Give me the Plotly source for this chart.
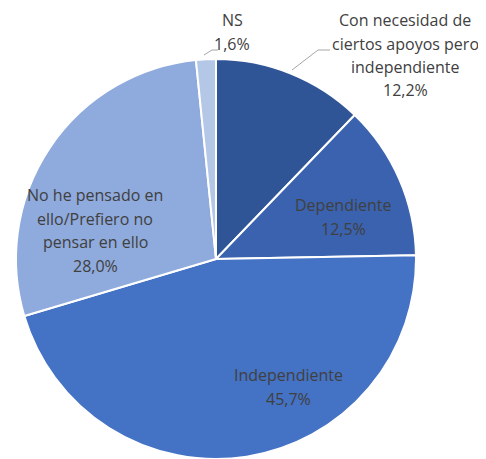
import plotly.graph_objects as go

categories = ["Con necesidad de ciertos apoyos pero independiente",
              "Dependiente", "Independiente",
              "No he pensado en ello/Prefiero no pensar en ello", "NS"]
values = [12.2, 12.5, 45.7, 28.0, 1.6]
label_lines = [["Con necesidad de", "ciertos apoyos pero", "independiente"],
               ["Dependiente"], ["Independiente"],
               ["No he pensado en", "ello/Prefiero no", "pensar en ello"],
               ["NS"]]
colors = ["#2F5597", "#3A62AE", "#4472C4", "#8FAADC", "#B4C7E7"]

OFF = 8  # page body margin
W, H = 486 - OFF, 459 - OFF
# label anchor (page pixel) for first line, and line spacing
label_pos = [(405, 20), (343, 205), (288, 375), (95, 195), (232, 20)]
LS = 23.5

def px(x):
    return (x - OFF) / W

def py(y):
    return 1 - (y - OFF) / H

fig = go.Figure(go.Pie(
    labels=categories, values=values, sort=False, direction="clockwise",
    rotation=0, marker=dict(colors=colors, line=dict(color="white", width=2)),
    textinfo="none", hoverinfo="label+percent", showlegend=False,
    domain=dict(x=[px(16), px(416)], y=[0, 400 / H]),
))

ann = []
for lines, v, (lx, ly) in zip(label_lines, values, label_pos):
    all_lines = lines + [f"{v:.1f}".replace(".", ",") + "%"]
    for i, t in enumerate(all_lines):
        ann.append(dict(x=px(lx), y=py(ly + i * LS), xref="paper", yref="paper",
                        text=t, showarrow=False, xanchor="center", yanchor="middle",
                        font=dict(family="Open Sans", size=16, color="#404040")))

def pline(pts):
    path = "M " + " L ".join(f"{px(x)},{py(y)}" for x, y in pts)
    return dict(type="path", path=path, xref="paper", yref="paper",
                line=dict(color="#A6A6A6", width=1))

shapes = [pline([(292, 70), (318, 50), (330, 50)]),
          pline([(204, 55), (212, 50), (218, 50)])]

fig.update_layout(width=W, height=H, margin=dict(l=0, r=0, t=0, b=0),
                  paper_bgcolor="white", plot_bgcolor="white",
                  annotations=ann, shapes=shapes)
fig.write_html("out.html")
